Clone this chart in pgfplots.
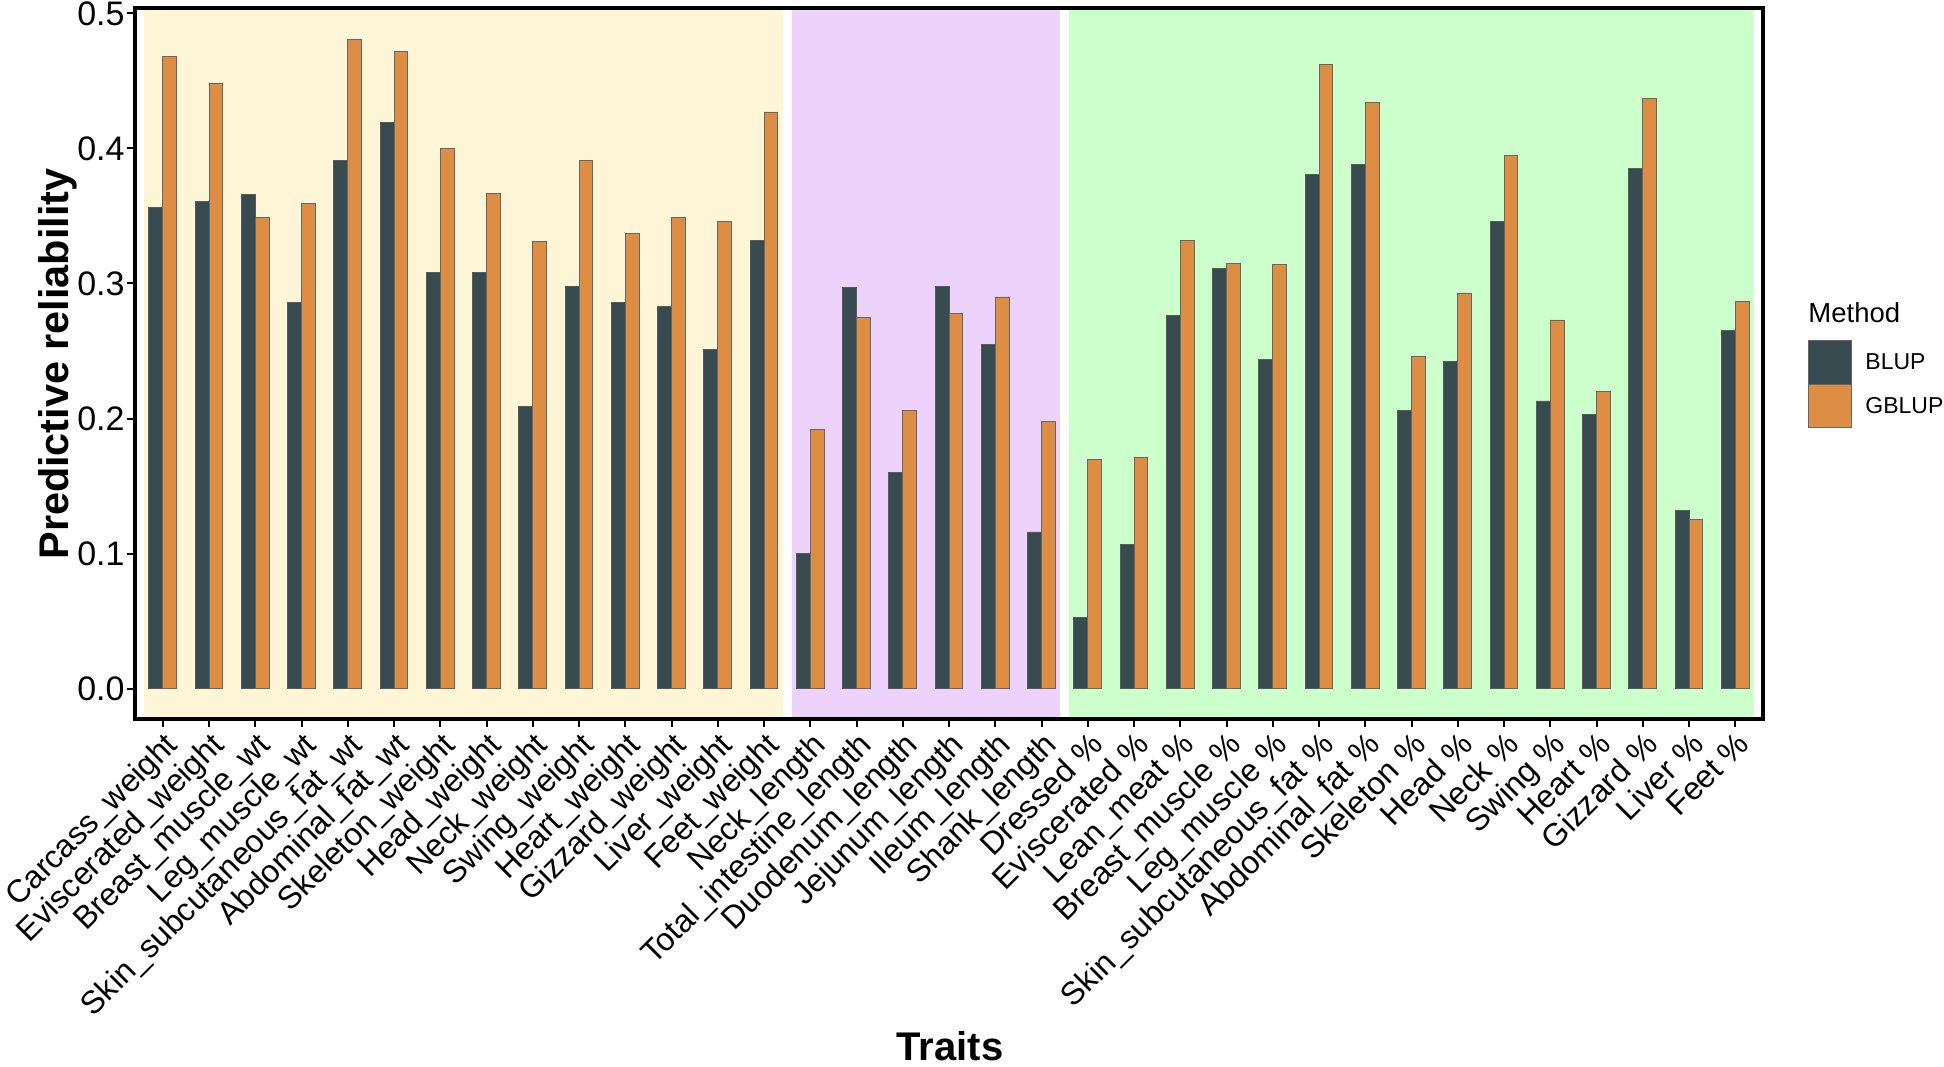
\documentclass[border=0pt]{standalone}
\usepackage{pgfplots}
\pgfplotsset{compat=1.18}
\usepackage{fontspec}
\setmainfont{Liberation Sans}
\definecolor{blupc}{RGB}{55,74,80}
\definecolor{gblupc}{RGB}{222,141,69}
\definecolor{ybg}{RGB}{255,245,215}
\definecolor{pbg}{RGB}{237,211,251}
\definecolor{gbg}{RGB}{204,255,204}
\begin{document}
\begin{tikzpicture}
\useasboundingbox (0,0) rectangle (972pt,533pt);
\begin{axis}[
  at={(67.5pt,173.5pt)}, anchor=south west,
  scale only axis, width=814pt, height=355.5pt,
  xmin=0.4, xmax=35.6, ymin=-0.0225, ymax=0.504,
  ybar,
  axis on top,
  axis line style={line width=1.6pt},
  tick style={line width=1pt, black},
  tick align=outside, major tick length=4pt,
  xtick pos=bottom, ytick pos=left,
  xtick={1,...,35},
  xticklabels={Carcass\_weight,Eviscerated\_weight,Breast\_muscle\_wt,Leg\_muscle\_wt,Skin\_subcutaneous\_fat\_wt,Abdominal\_fat\_wt,Skeleton\_weight,Head\_weight,Neck\_weight,Swing\_weight,Heart\_weight,Gizzard\_weight,Liver\_weight,Feet\_weight,Neck\_length,Total\_intestine\_length,Duodenum\_length,Jejunum\_length,Ileum\_length,Shank\_length,Dressed \%,Eviscerated \%,Lean\_meat \%,Breast\_muscle \%,Leg\_muscle \%,Skin\_subcutaneous\_fat \%,Abdominal\_fat \%,Skeleton \%,Head \%,Neck \%,Swing \%,Heart \%,Gizzard \%,Liver \%,Feet \%},
  xticklabel style={rotate=45, anchor=north east, font=\fontsize{16}{18}\selectfont, inner sep=1pt},
  ytick={0,0.1,0.2,0.3,0.4,0.5},
  yticklabel style={font=\fontsize{17}{19}\selectfont, inner sep=1pt, /pgf/number format/fixed, /pgf/number format/fixed zerofill, /pgf/number format/precision=1, /pgf/number format/assume math mode=true},
  bar width=0.3,
]
\fill[ybg] (axis cs:0.6,-0.0225) rectangle (axis cs:14.4,0.504);
\fill[pbg] (axis cs:14.6,-0.0225) rectangle (axis cs:20.4,0.504);
\fill[gbg] (axis cs:20.6,-0.0225) rectangle (axis cs:35.4,0.504);
\addplot[fill=blupc, draw=black!65, line width=0.4pt, bar shift=-0.15] coordinates {
(1,0.356) (2,0.361) (3,0.366) (4,0.286) (5,0.391) (6,0.419) (7,0.308) (8,0.308) (9,0.209) (10,0.298) (11,0.286) (12,0.283) (13,0.251) (14,0.332)
(15,0.100) (16,0.297) (17,0.160) (18,0.298) (19,0.255) (20,0.116)
(21,0.053) (22,0.107) (23,0.276) (24,0.311) (25,0.244) (26,0.381) (27,0.388) (28,0.206) (29,0.242) (30,0.346) (31,0.213) (32,0.203) (33,0.385) (34,0.132) (35,0.265)};
\addplot[fill=gblupc, draw=black!60, line width=0.4pt, bar shift=0.15] coordinates {
(1,0.468) (2,0.448) (3,0.349) (4,0.359) (5,0.481) (6,0.472) (7,0.400) (8,0.367) (9,0.331) (10,0.391) (11,0.337) (12,0.349) (13,0.346) (14,0.427)
(15,0.192) (16,0.275) (17,0.206) (18,0.278) (19,0.290) (20,0.198)
(21,0.170) (22,0.171) (23,0.332) (24,0.315) (25,0.314) (26,0.462) (27,0.434) (28,0.246) (29,0.293) (30,0.395) (31,0.273) (32,0.220) (33,0.437) (34,0.125) (35,0.287)};
\end{axis}
\node[rotate=90, font=\fontsize{20.7}{24}\selectfont\bfseries] at (29pt,351pt) {Predictive reliability};
\node[anchor=base, inner sep=0pt, font=\fontsize{20}{24}\selectfont\bfseries] at (475pt,3pt) {Traits};
\node[anchor=base west, inner sep=0pt, font=\fontsize{13.75}{16}\selectfont] at (904pt,371.5pt) {Method};
\filldraw[fill=blupc, draw=black!60, line width=0.4pt] (904pt,341pt) rectangle (925.5pt,363pt);
\filldraw[fill=gblupc, draw=black!60, line width=0.4pt] (904pt,319.5pt) rectangle (925.5pt,341pt);
\node[anchor=west, inner sep=0pt, font=\fontsize{11.5}{13}\selectfont] at (932.5pt,352pt) {BLUP};
\node[anchor=west, inner sep=0pt, font=\fontsize{11.5}{13}\selectfont] at (932.5pt,330.25pt) {GBLUP};
\end{tikzpicture}
\end{document}
